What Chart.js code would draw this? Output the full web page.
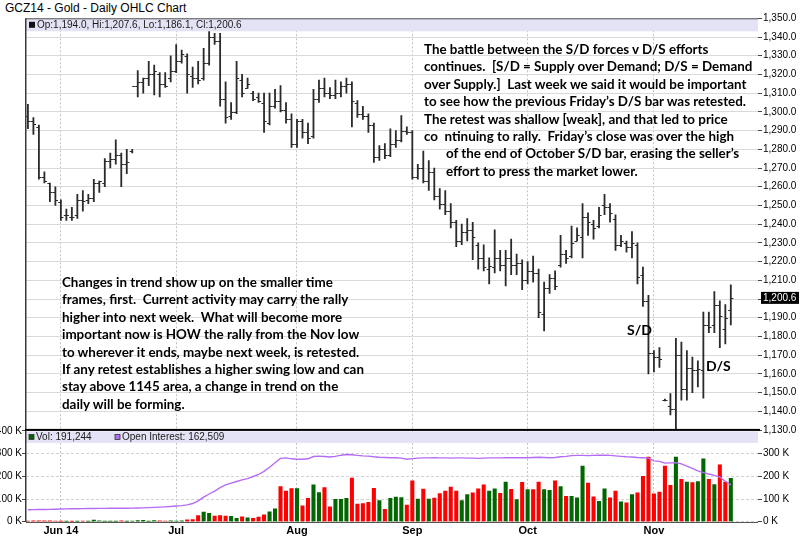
<!DOCTYPE html>
<html>
<head>
<meta charset="utf-8">
<script src="https://cdn.jsdelivr.net/npm/chart.js@4.4.1/dist/chart.umd.min.js"></script>
<style>
  html, body { margin: 0; padding: 0; background: #fff; }
  #wrap { position: relative; width: 800px; height: 539px; overflow: hidden; background: #fff; }
  canvas { position: absolute; left: 0; }
  #price { top: 0; }
  #vol { top: 412px; }
  .title { position: absolute; left: 5px; top: 1px; font: 12px "Liberation Sans", Arial, sans-serif; color: #000; }
  .note { position: absolute; font: bold 13.4px Lato, "Open Sans", sans-serif; line-height: 17.4px; color: #000; white-space: pre; }
  .note .ind { padding-left: 22px; }
  .tag { position: absolute; font: bold 14px Lato, "Open Sans", sans-serif; color: #000; }
</style>
</head>
<body>
<div id="wrap">
  <div class="title">GCZ14 - Gold - Daily OHLC Chart</div>
  <canvas id="price" width="800" height="445"></canvas>
  <canvas id="vol" width="800" height="127"></canvas>
  <div class="note" style="left:424px;top:41px"><div>The battle between the S/D forces v D/S efforts</div><div>continues.  [S/D = Supply over Demand; D/S = Demand</div><div>over Supply.]  Last week we said it would be important</div><div>to see how the previous Friday’s D/S bar was retested.</div><div>The retest was shallow [weak], and that led to price</div><div>co  ntinuing to rally.  Friday’s close was over the high</div><div class="ind">of the end of October S/D bar, erasing the seller’s</div><div class="ind">effort to press the market lower.</div></div>
  <div class="note" style="left:62px;top:274px"><div>Changes in trend show up on the smaller time</div><div>frames, first.  Current activity may carry the rally</div><div>higher into next week.  What will become more</div><div>important now is HOW the rally from the Nov low</div><div>to wherever it ends, maybe next week, is retested.</div><div>If any retest establishes a higher swing low and can</div><div>stay above 1145 area, a change in trend on the</div><div>daily will be forming.</div></div>
  <div class="tag" style="left:627px;top:321px">S/D</div>
  <div class="tag" style="left:706px;top:357px">D/S</div>
</div>
<script>
// Daily bars, 22 May 2014 .. 21 Nov 2014 (index = trading day)
const opens = [1298,1295,1292,1265,1262,1257,1252,1245,1244,1245,1253,1253,1254,1262,1262,1274,1275,1277,1272,1279,
  1314,1316,1318,1320,1320,1315,1318,1322,1327,1330,1319,1318,1318,1326,1340,1338,1307,1298,1300,1317,
  1313,1310,1308,1305,1294,1303,1306,1301,1296,1283,1295,1289,1287,1307,1313,1310,1309,1310,1314,1315,
  1305,1299,1298,1293,1276,1280,1277,1283,1285,1290,1289,1265,1270,1263,1268,1255,1251,1247,1241,1231,
  1236,1237,1229,1222,1216,1217,1222,1218,1222,1218,1219,1210,1215,1214,1192,1206,1211,1218,1224,1223,
  1231,1233,1244,1240,1239,1250,1249,1243,1229,1230,1228,1229,1213,1199,1171,1169,1146,1143,1141,1170,
  1152,1163,1162,1162,1186,1186,1197,1184,1194.0];
const highs = [1304,1297,1293,1268,1262,1260,1253,1248,1249,1256,1258,1256,1264,1263,1275,1278,1285,1278,1280,1280,
  1322,1318,1327,1325,1321,1321,1330,1336,1333,1331,1324,1327,1334,1345,1342,1342,1316,1305,1327,1320,
  1318,1311,1310,1310,1310,1312,1314,1305,1299,1296,1296,1294,1312,1317,1318,1313,1317,1316,1318,1316,
  1306,1303,1299,1294,1282,1283,1291,1290,1298,1292,1290,1272,1279,1274,1270,1259,1258,1251,1242,1240,
  1243,1241,1230,1229,1222,1237,1226,1226,1232,1224,1221,1220,1223,1216,1209,1213,1215,1234,1226,1239,
  1238,1251,1246,1242,1249,1256,1251,1245,1234,1231,1236,1230,1217,1202,1172.5,1174,1146.5,1149.5,1179,1177,
  1172.5,1169,1167,1193,1193,1204,1199,1197,1207.6];
const lows = [1291,1288,1264,1262,1252,1250,1242,1242,1242,1243,1247,1251,1252,1257,1260,1270,1272,1260,1267,1278,
  1308,1310,1314,1309,1308,1313,1316,1321,1326,1310,1313,1315,1317,1325,1336,1303,1294,1296,1299,1308,
  1312.5,1306,1305,1289,1293,1302,1300,1294,1281,1281,1286,1283,1286,1305,1308,1307,1307,1308,1310,1292,
  1297,1296,1289,1273,1274,1275,1276,1281,1284,1288,1264,1264,1262,1258,1253,1248,1245,1238,1228,1229,
  1231,1221,1216,1215,1208,1214,1215,1207,1213,1213,1205,1208,1209,1190,1183,1203,1205,1217,1219,1222,
  1231,1222,1234,1232,1238,1245,1241,1226,1228,1225,1222,1208,1196,1160,1161,1163.5,1145.5,1138,1130,1146,
  1146,1150,1153,1147,1182,1182,1174,1176,1186.1];
const closes = [1295,1293.5,1265,1263,1257,1253,1244,1245,1244,1253,1252.5,1254,1262,1263,1274,1275,1277,1272,1273,1314,
  1316,1318,1320,1322,1315,1314,1322,1327,1331,1320,1318,1317,1326,1340,1338,1307,1297,1300,1318,1310,
  1315,1307,1306,1295,1303,1306,1301,1296,1283,1295,1289,1286,1307,1313,1310,1309,1310,1314,1315,1306,
  1299,1298,1293,1276,1280,1277,1283,1285,1290,1289,1265,1270,1263,1268,1255,1251,1247,1241,1231,1236,
  1237,1233,1222,1217,1217.5,1222,1218,1222,1218,1219,1210,1215,1214,1193,1206,1211,1207,1224,1222,1230,
  1234,1244,1241,1238,1245,1249,1246,1229,1231,1228,1230,1212,1199,1171,1169,1168,1146,1141,1170,1152,
  1163,1162,1162.5,1186,1185,1197,1191,1190,1200.6];

// Daily volume (contracts) and whether the session closed up (1) or down (0)
const volume = [3000,3500,3800,3300,3600,2500,900,700,800,900,3000,1000,7000,4000,1200,1000,1100,4000,1200,3000,
  4500,6000,1500,5000,3500,3000,3500,3000,4000,8000,9000,27000,42000,37000,25000,27000,25000,24000,15000,21000,
  17000,15000,20000,30000,43000,57000,155000,135000,146000,146000,70000,103000,162000,128000,150000,66000,98000,98000,103000,192000,
  78000,80000,85000,147000,93000,55000,103000,108000,106000,73000,180000,100000,144000,100000,104000,124000,135000,152000,135000,93000,
  120000,127000,145000,162000,135000,145000,125000,175000,143000,97000,173000,142000,142000,175000,142000,138000,180000,155000,112000,112000,
  105000,245000,170000,110000,90000,145000,105000,135000,88000,83000,120000,127000,200000,285000,123000,130000,245000,160000,285000,187000,
  175000,172000,177000,277000,187000,163000,250000,175000,191244];
const volumeUp = [0,0,0,0,0,0,0,1,0,1,0,1,1,1,1,1,1,0,1,1,
  1,1,1,1,0,0,1,1,1,0,0,0,1,1,0,0,0,1,1,0,
  1,0,0,0,1,1,0,0,0,1,0,0,1,1,0,0,1,1,1,0,
  0,0,0,0,1,0,1,1,1,0,0,1,0,1,0,0,0,0,0,1,
  1,0,0,0,1,1,0,1,0,1,0,1,0,0,1,1,0,1,0,1,
  1,1,0,0,1,1,0,0,1,0,1,0,0,0,0,0,0,0,1,0,
  1,0,1,1,0,1,0,0,1];
const openInterest = [52500,53000,53500,54000,54500,55000,56000,56500,57000,57000,57500,58000,58000,58500,58500,59000,59000,59500,59500,60000,
  60500,61000,62000,63000,64000,65500,67000,69000,71000,74000,80000,92000,108000,122000,135000,150000,162000,170000,177000,184000,
  190000,199000,208000,222000,240000,260000,279000,281000,277000,275000,275000,277000,287000,289000,287000,285000,288000,293000,296000,295000,
  292000,290000,289000,286000,284000,283000,282000,282000,280000,275000,278000,280000,281000,281000,282000,281000,281000,280000,281000,281000,
  280000,280000,279000,280000,281000,281000,281000,282000,282000,282000,282000,282000,283000,284000,283000,282000,283000,286000,288000,291000,
  292000,292000,291000,292000,293000,293000,292000,290000,288000,286000,285000,283000,282000,280000,268000,266000,258000,259000,260000,255000,
  245000,235000,224000,216000,210000,204000,196000,178000,162509];

const monthLabels = ['Jun 14', 'Jul', 'Aug', 'Sep', 'Oct', 'Nov'];
const monthStart = [6, 27, 49, 70, 91, 114];

const X_MIN = -0.35, X_MAX = 132.95;
const FONT = '"Liberation Sans", Arial, sans-serif';
Chart.defaults.font.family = FONT;
Chart.defaults.font.size = 10;
Chart.defaults.color = '#000';

const fmtPrice = v => {
  const [a, b] = v.toFixed(1).split('.');
  return a.replace(/\B(?=(\d{3})+(?!\d))/g, ',') + '.' + b;
};
const fmtInt = v => String(Math.round(v)).replace(/\B(?=(\d{3})+(?!\d))/g, ',');
const last = closes.length - 1;

// open / close ticks on each high-low bar
const ohlcTicks = {
  id: 'ohlcTicks',
  afterDatasetsDraw(chart) {
    const { ctx, chartArea: a, scales: { x, y } } = chart;
    ctx.save();
    ctx.beginPath();
    ctx.rect(a.left, a.top, a.right - a.left, a.bottom - a.top);
    ctx.clip();
    ctx.strokeStyle = '#2a2a2a';
    ctx.lineWidth = 1.1;
    ctx.beginPath();
    opens.forEach((o, i) => {
      const px = x.getPixelForValue(i);
      const yo = Math.round(y.getPixelForValue(o)) + 0.5;
      const yc = Math.round(y.getPixelForValue(closes[i])) + 0.5;
      ctx.moveTo(px - 2.6, yo); ctx.lineTo(px, yo);
      ctx.moveTo(px, yc); ctx.lineTo(px + 2.6, yc);
    });
    ctx.stroke();
    ctx.restore();
  }
};

// header band, frame and last-price marker of the price panel
const priceFrame = {
  id: 'priceFrame',
  afterDatasetsDraw(chart) {
    const { ctx, chartArea: a, scales: { y } } = chart;
    ctx.save();
    ctx.fillStyle = '#e3e3f5';
    ctx.fillRect(a.left, a.top, a.right - a.left, 13);
    ctx.strokeStyle = '#555';
    ctx.lineWidth = 1;
    ctx.beginPath(); ctx.moveTo(a.left, a.top + 0.5); ctx.lineTo(a.right, a.top + 0.5); ctx.stroke();
    ctx.fillStyle = '#111';
    ctx.fillRect(a.left + 3, a.top + 3.5, 6, 6);
    ctx.font = '10px ' + FONT;
    ctx.textBaseline = 'middle';
    ctx.fillStyle = '#1a1a1a';
    ctx.fillText('Op:' + fmtPrice(opens[last]) + ', Hi:' + fmtPrice(highs[last]) + ', Lo:' + fmtPrice(lows[last]) + ', Cl:' + fmtPrice(closes[last]), a.left + 11, a.top + 7);
    // left edge
    ctx.strokeStyle = '#3a3a3a';
    ctx.lineWidth = 1.5;
    ctx.beginPath(); ctx.moveTo(a.left - 0.25, a.top); ctx.lineTo(a.left - 0.25, a.bottom); ctx.stroke();
    // last close marker on the price axis
    const yc = y.getPixelForValue(closes[last]);
    ctx.fillStyle = '#000';
    ctx.fillRect(a.right + 3, yc - 6, 38, 12);
    ctx.fillStyle = '#fff';
    ctx.fillText(fmtPrice(closes[last]), a.right + 5, yc + 0.5);
    ctx.restore();
  }
};

new Chart(document.getElementById('price'), {
  type: 'bar',
  data: {
    datasets: [{
      data: lows.map((l, i) => ({ x: i, y: [l, highs[i]] })),
      backgroundColor: '#2a2a2a',
      barThickness: 1.15
    }]
  },
  options: {
    responsive: false, animation: false, devicePixelRatio: 1,
    layout: { padding: { left: 26, top: 18.3, right: 0, bottom: 15 } },
    plugins: { legend: { display: false }, tooltip: { enabled: false } },
    scales: {
      x: {
        type: 'linear', min: X_MIN, max: X_MAX, offset: false,
        afterBuildTicks: s => { s.ticks = monthStart.map(v => ({ value: v })); },
        ticks: { display: false },
        grid: { color: '#c2c2c2', drawTicks: false, offset: false },
        border: { display: false, dash: [2, 2] },
        afterFit: s => { s.height = 0; }
      },
      y: {
        position: 'right', min: 1130, max: 1350,
        ticks: { stepSize: 10, padding: 1, color: '#000', callback: v => (v === 1200 ? '' : fmtPrice(v)) },
        grid: { color: '#dadada', tickColor: '#444', tickLength: 4 },
        border: { display: false },
        afterFit: s => { s.width = 42; }
      }
    }
  },
  plugins: [ohlcTicks, priceFrame]
});

// header band and frame of the volume panel
const volFrame = {
  id: 'volFrame',
  afterDatasetsDraw(chart) {
    const { ctx, chartArea: a } = chart;
    ctx.save();
    ctx.fillStyle = '#e3e3f5';
    ctx.fillRect(a.left, a.top + 0.5, a.right - a.left, 11.5);
    ctx.fillStyle = '#000';
    ctx.fillRect(a.left - 1, a.top - 2, a.right - a.left + 3, 2);
    ctx.font = '10px ' + FONT;
    ctx.textBaseline = 'middle';
    ctx.strokeStyle = '#333'; ctx.lineWidth = 0.8;
    ctx.fillStyle = '#006600';
    ctx.fillRect(a.left + 3, a.top + 3.5, 5, 5);
    ctx.strokeRect(a.left + 3, a.top + 3.5, 5, 5);
    ctx.fillStyle = '#1a1a1a';
    ctx.fillText('Vol: ' + fmtInt(volume[last]), a.left + 10, a.top + 6.5);
    ctx.fillStyle = '#b56cf5';
    ctx.fillRect(a.left + 89, a.top + 3.5, 5, 5);
    ctx.strokeRect(a.left + 89, a.top + 3.5, 5, 5);
    ctx.fillStyle = '#1a1a1a';
    ctx.fillText('Open Interest: ' + fmtInt(openInterest[last]), a.left + 96, a.top + 6.5);
    ctx.strokeStyle = '#3a3a3a';
    ctx.lineWidth = 1.5;
    ctx.beginPath(); ctx.moveTo(a.left - 0.25, a.top); ctx.lineTo(a.left - 0.25, a.bottom); ctx.stroke();
    ctx.lineWidth = 1;
    ctx.strokeStyle = '#555';
    ctx.beginPath(); ctx.moveTo(a.left, Math.round(a.bottom) + 0.5); ctx.lineTo(a.right, Math.round(a.bottom) + 0.5); ctx.stroke();
    ctx.restore();
  }
};

const kLabel = v => (v / 1000) + ' K';

new Chart(document.getElementById('vol'), {
  type: 'bar',
  data: {
    datasets: [
      {
        type: 'line', label: 'Open Interest',
        data: openInterest.map((v, i) => ({ x: i, y: v })),
        borderColor: '#b56cf5', borderWidth: 1.4, pointRadius: 0, tension: 0
      },
      {
        type: 'bar', label: 'Vol',
        data: volume.map((v, i) => ({ x: i, y: v })),
        backgroundColor: volumeUp.map(u => (u ? '#006600' : '#ff0000')),
        barThickness: 3.4
      }
    ]
  },
  options: {
    responsive: false, animation: false, devicePixelRatio: 1,
    layout: { padding: { top: 18.9, left: 0, right: 0, bottom: 0 } },
    plugins: { legend: { display: false }, tooltip: { enabled: false } },
    scales: {
      x: {
        type: 'linear', min: X_MIN, max: X_MAX, offset: false,
        afterBuildTicks: s => { s.ticks = monthStart.map(v => ({ value: v })); },
        ticks: { autoSkip: false, maxRotation: 0, padding: 2.5, color: '#000', font: { weight: 'bold', size: 11 },
                 callback: v => monthLabels[monthStart.indexOf(v)] },
        grid: { color: '#c2c2c2', drawTicks: false, offset: false },
        border: { display: false, dash: [2, 2] },
        afterFit: s => { s.height = 17.3; }
      },
      y: {
        position: 'left', min: 0, max: 400000,
        ticks: { stepSize: 100000, padding: 0, color: '#000', callback: kLabel },
        grid: { color: '#d2d2d2', tickColor: '#444', tickLength: 4 },
        border: { display: false, dash: [3, 2] },
        afterFit: s => { s.width = 26; }
      },
      y2: {
        position: 'right', min: 0, max: 400000,
        ticks: { stepSize: 100000, padding: 1, color: '#000', callback: v => (v >= 400000 ? '' : kLabel(v)) },
        grid: { drawOnChartArea: false, tickColor: '#444', tickLength: 4 },
        border: { display: false },
        afterFit: s => { s.width = 42; }
      }
    }
  },
  plugins: [volFrame]
});
</script>
</body>
</html>
